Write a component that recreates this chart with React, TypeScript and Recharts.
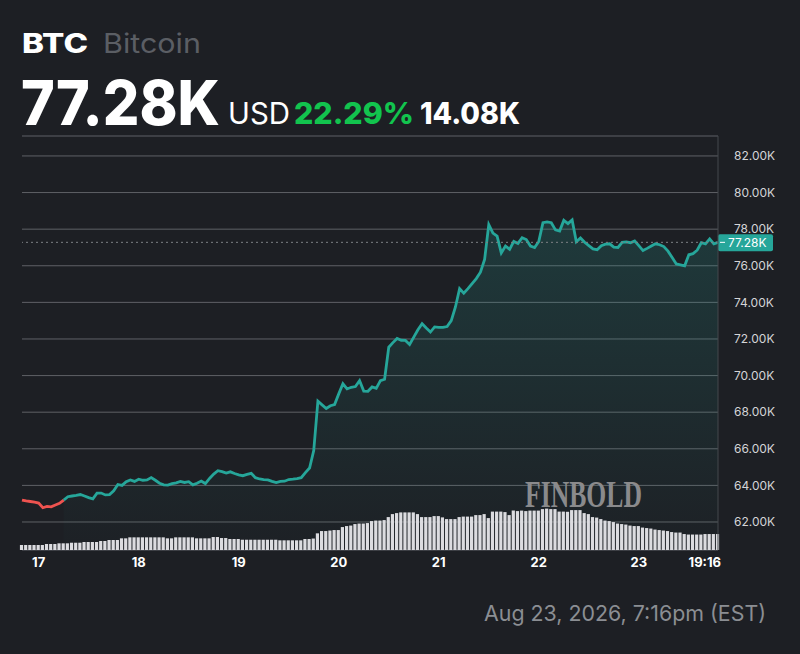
import React from 'react';
import {
    ComposedChart, Area, Line, Bar, XAxis, YAxis, CartesianGrid, ReferenceLine
} from 'recharts';

// hourly closes (K USD), starting Aug 16 20:00
const prices = [
    63.2, 63.15, 63.12, 63.08, 63.03, 62.78, 62.85, 62.83, 62.93, 63.02,
    63.2, 63.38, 63.42, 63.45, 63.5, 63.42, 63.33, 63.26, 63.58, 63.58,
    63.48, 63.5, 63.7, 64.05, 64.0, 64.2, 64.3, 64.22, 64.34, 64.28,
    64.3, 64.43, 64.28, 64.12, 64.03, 64.02, 64.1, 64.14, 64.22, 64.16,
    64.2, 64.03, 64.12, 64.24, 64.1, 64.38, 64.62, 64.8, 64.75, 64.67,
    64.74, 64.65, 64.58, 64.53, 64.6, 64.66, 64.42, 64.35, 64.32, 64.3,
    64.22, 64.15, 64.22, 64.23, 64.32, 64.34, 64.37, 64.42, 64.7, 64.95,
    65.9, 68.6, 68.4, 68.2, 68.35, 68.42, 69.0, 69.55, 69.27, 69.36,
    69.4, 69.72, 69.15, 69.14, 69.38, 69.3, 69.72, 69.8, 71.55, 71.8,
    72.03, 71.93, 71.92, 71.7, 72.1, 72.5, 72.83, 72.6, 72.38, 72.66,
    72.63, 72.63, 72.68, 73.0, 73.75, 74.75, 74.5, 74.75, 75.03, 75.3,
    75.65, 76.35, 78.25, 77.78, 77.62, 76.7, 77.08, 76.9, 77.33, 77.22,
    77.53, 77.43, 77.08, 77.0, 77.33, 78.35, 78.4, 78.35, 77.96, 77.9,
    78.48, 78.3, 78.5, 77.31, 77.52, 77.28, 77.1, 76.92, 76.88, 77.1,
    77.18, 77.2, 77.02, 77.0, 77.28, 77.3, 77.26, 77.36, 77.1, 76.83,
    76.95, 77.08, 77.2, 77.15, 77.05, 76.8, 76.45, 76.1, 76.05, 76.0,
    76.6, 76.66, 76.85, 77.26, 77.2, 77.47, 77.2, 77.28,
];

// hourly volume (relative units)
const volumes = [
    5, 5, 5, 5, 5, 5, 6, 6, 6, 6.7,
    6.7, 6.7, 7.3, 7.3, 7.3, 8, 8, 8, 8, 9,
    9, 10, 10, 10, 11.7, 11.7, 12.7, 12.7, 12.7, 12.7,
    12.7, 12.7, 12.7, 12.7, 12.7, 11.7, 11.7, 12.7, 12.7, 12.7,
    12.7, 12.7, 11.7, 11.7, 11.7, 11.7, 13, 13, 12, 12,
    11, 11, 11, 10.3, 10.3, 10.3, 10.3, 10.3, 10.3, 10.3,
    10.3, 10.3, 9.7, 9.7, 9.7, 9.7, 9.7, 9.7, 11, 11,
    11.5, 16.7, 19, 19, 19.5, 20, 20, 23, 24, 24.5,
    26, 26.5, 26.5, 27, 29, 29.5, 29.5, 30, 33, 36,
    37, 37.7, 37.7, 37.7, 37.7, 36, 33, 33, 33, 34,
    34, 32.7, 31, 31, 31, 33, 33.5, 33.5, 33.5, 35,
    35, 36, 32, 38.5, 38.5, 38.5, 38, 35, 39.5, 39,
    39.5, 39, 39.5, 39.5, 39.5, 41, 41.5, 41, 41, 38.5,
    38.5, 38.3, 40, 40, 40, 37, 36, 33, 32.5, 31,
    29.5, 29, 28, 26.5, 26, 25.5, 24.5, 24, 24, 22.5,
    22, 21.5, 20.5, 20, 19.5, 19, 18, 17.5, 17.5, 16,
    15.5, 15.5, 15.5, 15.5, 16, 16, 16, 16,
];

// price stays red until it climbs back over the open
const redUntil = 10;

const dayTicks = [4, 28, 52, 76, 100, 124, 148, 167];
const dayLabels = ['17', '18', '19', '20', '21', '22', '23', '19:16'];
const priceTicks = [62, 64, 66, 68, 70, 72, 74, 76, 78, 80, 82];
const lastPrice = 77.28;

const TEAL = '#26a69a';
const RED = '#ef5350';
const BG = '#1d1f24';

const data = prices.map((p, i) => ({
    t: i,
    price: i >= redUntil ? p : null,
    red: i <= redUntil ? p : null,
    vol: volumes[i],
}));

const DayTick = (props: any) => {
    const { x, y, payload } = props;
    const idx = dayTicks.indexOf(payload.value);
    const last = idx === dayTicks.length - 1;
    return (
        <text
            x={last ? x + 3 : x}
            y={y}
            dy="0.71em"
            textAnchor={last ? 'end' : 'middle'}
            fill="#ffffff"
            fontSize={13}
            fontWeight={700}
            fontFamily="Inter, sans-serif"
        >
            {dayLabels[idx]}
        </text>
    );
};

const PriceTag = (props: any) => {
    const { viewBox } = props;
    if (!viewBox) return null;
    const x = viewBox.x + viewBox.width;
    const y = viewBox.y;
    return (
        <g>
            <rect x={x} y={y - 8} width={55} height={17} rx={2} fill={TEAL} />
            <line x1={x + 2} x2={x + 7} y1={y} y2={y} stroke="#ffffff" strokeWidth={1} />
            <text x={x + 10} y={y + 5} fill="#ffffff" fontSize={12} fontFamily="Inter, sans-serif">
                {lastPrice.toFixed(2)}K
            </text>
        </g>
    );
};

export default function App() {
    return (
        <div style={{ position: 'relative', width: 800, height: 654, background: BG, overflow: 'hidden' }}>
            <style>{`body{margin:0;background:${BG};}`}</style>

            <svg width={800} height={140} style={{ position: 'absolute', left: 0, top: 0 }}>
                <g fontFamily="Inter, sans-serif">
                    <text x={22} y={53} fontSize={27} fontWeight={800} fill="#ffffff" textLength={66} lengthAdjust="spacingAndGlyphs">BTC</text>
                    <text x={103} y={53} fontSize={27} fontWeight={400} fill="#5b5e64" textLength={98} lengthAdjust="spacingAndGlyphs">Bitcoin</text>
                    <g transform="translate(21,125) scale(1,1.08)">
                        <text x={0} y={0} fontSize={57} fontWeight={800} fill="#ffffff" textLength={199} lengthAdjust="spacingAndGlyphs">77.28K</text>
                    </g>
                    <text x={228} y={124} fontSize={30} fontWeight={400} fill="#ffffff" textLength={62} lengthAdjust="spacingAndGlyphs">USD</text>
                    <text x={294} y={124} fontSize={30} fontWeight={800} fill="#12c44e" textLength={120} lengthAdjust="spacingAndGlyphs">22.29%</text>
                    <text x={420} y={124} fontSize={30} fontWeight={800} fill="#ffffff" textLength={100} lengthAdjust="spacingAndGlyphs">14.08K</text>
                </g>
            </svg>

            <div style={{ position: 'absolute', left: 0, top: 0 }}>
                <ComposedChart
                    width={800}
                    height={654}
                    data={data}
                    margin={{ top: 136, right: 0, bottom: 74, left: 22 }}
                >
                    <defs>
                        <linearGradient id="priceFill" x1="0" y1="0" x2="0" y2="1">
                            <stop offset="0%" stopColor={TEAL} stopOpacity={0.2} />
                            <stop offset="100%" stopColor={TEAL} stopOpacity={0.01} />
                        </linearGradient>
                    </defs>
                    <CartesianGrid yAxisId="price" vertical={false} stroke="#5f6166" />
                    <XAxis
                        dataKey="t"
                        type="number"
                        domain={[0, 167]}
                        ticks={dayTicks}
                        tick={<DayTick />}
                        axisLine={false}
                        tickLine={false}
                        height={30}
                        interval={0}
                    />
                    <YAxis
                        yAxisId="price"
                        orientation="right"
                        domain={[60.47, 83.09]}
                        ticks={priceTicks}
                        allowDataOverflow
                        width={82}
                        tickFormatter={(v: number) => `${v.toFixed(2)}K`}
                        axisLine={{ stroke: '#45484d' }}
                        tickLine={false}
                        tickMargin={10}
                        tick={{ fill: '#d4d4d7', fontSize: 12, fontFamily: 'Inter, sans-serif' }}
                    />
                    <YAxis yAxisId="vol" domain={[0, 415]} hide />
                    <Bar
                        yAxisId="vol"
                        dataKey="vol"
                        fill="#dcdce0"
                        barSize={3.2}
                        isAnimationActive={false}
                    />
                    <ReferenceLine
                        yAxisId="price"
                        y={lastPrice}
                        stroke="#7d8085"
                        strokeDasharray="2 3"
                        label={<PriceTag />}
                    />
                    <Area
                        yAxisId="price"
                        type="linear"
                        dataKey="price"
                        stroke={TEAL}
                        strokeWidth={2.8}
                        fill="url(#priceFill)"
                        fillOpacity={1}
                        dot={false}
                        activeDot={false}
                        isAnimationActive={false}
                    />
                    <Line
                        yAxisId="price"
                        type="linear"
                        dataKey="red"
                        stroke={RED}
                        strokeWidth={2.8}
                        dot={false}
                        activeDot={false}
                        isAnimationActive={false}
                    />
                </ComposedChart>
            </div>

            <svg width={800} height={654} style={{ position: 'absolute', left: 0, top: 0, pointerEvents: 'none' }}>
                <text
                    x={525}
                    y={507}
                    fontSize={38}
                    fontFamily="'Liberation Serif', serif"
                    fontWeight={700}
                    fill="#8a8a8c"
                    textLength={117}
                    lengthAdjust="spacingAndGlyphs"
                >
                    FINBOLD
                </text>
                <text
                    x={484}
                    y={621}
                    fontSize={22}
                    fontFamily="Inter, sans-serif"
                    fill="#8b8e93"
                    textLength={282}
                    lengthAdjust="spacingAndGlyphs"
                >
                    Aug 23, 2026, 7:16pm (EST)
                </text>
            </svg>
        </div>
    );
}
